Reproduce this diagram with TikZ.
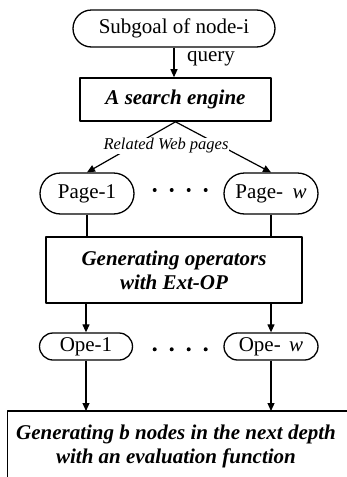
\documentclass[tikz,border=0pt]{standalone}
\usepackage{fontspec}
\setmainfont{Liberation Serif}
\usetikzlibrary{arrows.meta,positioning,shapes.misc}

\begin{document}
\begin{tikzpicture}[x=1pt, y=-1pt, line join=round, >={Triangle[length=8pt,width=7pt]},
	every node/.style={font=\fontsize{21}{24}\selectfont},
	pill/.style={draw, line width=1.3pt, rounded rectangle, inner sep=0pt},
	blk/.style={draw, line width=1.6pt, inner sep=0pt, align=center, font=\fontsize{21}{24}\selectfont\bfseries\itshape},
	conn/.style={line width=1.2pt}]
	\useasboundingbox (0,0) rectangle (347,477);
	\clip (0,0) rectangle (347,477);
	% query stage
	\node[pill, minimum width=202pt, minimum height=37pt] (subgoal) at (174,28.5) {Subgoal of node-i};
	\node[blk, minimum width=191pt, minimum height=43pt] (engine) at (175.5,99.5) {A search engine};
	\draw[conn,->] (subgoal.south) -- (subgoal.south |- engine.north);
	\node (query) at (211,59) {query};
	% retrieved pages
	\node[pill, minimum width=94pt, minimum height=41pt] (page1) at (87,193.5) {Page-1};
	\node[pill, minimum width=94pt, minimum height=41pt] (pagew) at (271,193.5) {Page-\hspace{0.45em}\textit{w}};
	\draw[conn,->] (engine.south) -- (page1.north);
	\draw[conn,->] (engine.south) -- (pagew.north);
	\node[font=\fontsize{16.5}{18}\selectfont\itshape, fill=white, inner sep=1pt] (related) at (166,146) {Related Web pages};
	\foreach \i in {0,...,3} \fill (154.7+17*\i,190) circle (2pt);
	% operator generation
	\node[blk, minimum width=256pt, minimum height=66pt] (extop) at (174,270) {Generating operators\\with Ext-OP};
	\draw[conn] (page1.south) -- (page1.south |- extop.north);
	\draw[conn] (pagew.south) -- (pagew.south |- extop.north);
	\node[pill, minimum width=93pt, minimum height=27pt] (ope1) at (86,346.5) {Ope-1};
	\node[pill, minimum width=94pt, minimum height=27pt] (opew) at (271,346.5) {Ope-\hspace{0.4em}\textit{w}};
	\draw[conn,->] (ope1.north |- extop.south) -- (ope1.north);
	\draw[conn,->] (opew.north |- extop.south) -- (opew.north);
	\foreach \i in {0,...,3} \fill (154.7+17*\i,349.3) circle (2pt);
	% next depth
	\coordinate (evaltop) at (7.5,411);
	\draw[line width=1.6pt] (evaltop) ++(0,90) -- (evaltop) -- ++(360,0);
	\node[blk, draw=none] (evalfn) at (176,446) {Generating b nodes in the next depth\\with an evaluation function};
	\draw[conn,->] (ope1.south) -- (ope1.south |- evaltop);
	\draw[conn,->] (opew.south) -- (opew.south |- evaltop);
\end{tikzpicture}
\end{document}
